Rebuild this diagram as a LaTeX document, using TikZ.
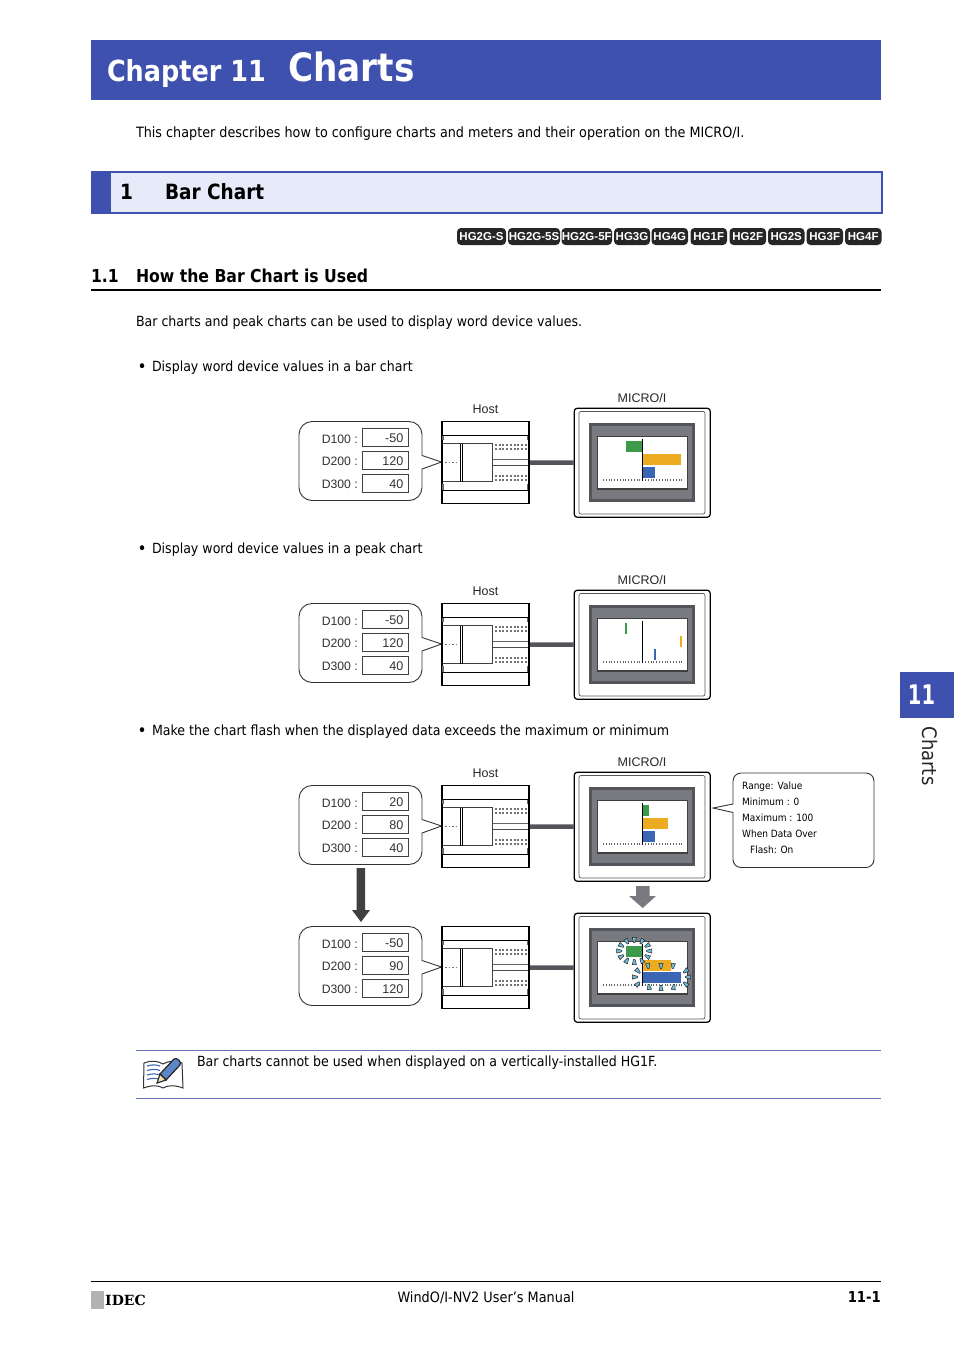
\documentclass[tikz,border=0pt]{standalone}
\usepackage{fontspec}
\setmainfont{DejaVu Sans}[FakeStretch=0.90,BoldFeatures={FakeStretch=0.88}]
\newfontfamily\labelfont{Liberation Sans}
\newfontfamily\logofont{DejaVu Serif}
\newfontfamily\tabfont{DejaVu Sans}[BoldFeatures={FakeStretch=0.72}]
\usepackage{tikz}

\definecolor{chapterblue}{HTML}{3F51AE}
\definecolor{sectiontint}{HTML}{E7EAF9}
\definecolor{bezeldark}{HTML}{53555A}
\definecolor{bezelgray}{HTML}{787A80}
\definecolor{bargreen}{HTML}{3B9B4B}
\definecolor{barorange}{HTML}{EDAB22}
\definecolor{barblue}{HTML}{3A66B4}
\definecolor{sparkcyan}{HTML}{6FBFDC}
\definecolor{notebook}{HTML}{5B86C8}

\tikzset{
	body/.style = {anchor = base west, inner sep = 0, outer sep = 0, font = \fontsize{14}{14}\selectfont},
	bulletmark/.style = {anchor = base west, inner sep = 0, outer sep = 0, font = \fontsize{17}{17}\selectfont},
	small/.style = {anchor = base west, inner sep = 0, font = \fontsize{10}{10}\selectfont},
	devlabel/.style = {anchor = east, inner sep = 0, font = \labelfont\fontsize{12.2}{12.2}\selectfont, text = black!80},
	valuebox/.style = {draw = black!75, line width = 0.8pt, fill = white, minimum width = 46pt, minimum height = 18pt, inner sep = 0},
	valuetext/.style = {anchor = east, inner sep = 0, font = \labelfont\fontsize{12.6}{12.6}\selectfont, text = black!80},
	hosttext/.style = {inner sep = 0, font = \labelfont\fontsize{12.5}{12.5}\selectfont, text = black!85},
	hostbox/.style = {draw, line width = 1.5pt, fill = white, minimum width = 87pt, minimum height = 82pt, inner sep = 0},
	panelbox/.style = {draw, line width = 1.2pt, rounded corners = 3pt, fill = white, minimum width = 136pt, minimum height = 109pt, inner sep = 0},
	linkbar/.style = {line width = 4.5pt, draw = bezeldark},
	sparktick/.style = {draw = black!85, line width = 0.5pt, fill = sparkcyan},
	notepage/.style = {draw = black!80, line width = 1pt, fill = white},
}

\newcommand{\plcgroup}[5]{
	\begin{scope}[shift = {(0, #2)}]
	\draw[black!80, line width = 0.9pt, fill = white] (312, 421.5) -- (409, 421.5) arc[start angle = 90, end angle = 0, radius = 13pt] -- (422, 455.5) -- (441.5, 462) -- (422, 469) -- (422, 487.5) arc[start angle = 0, end angle = -90, radius = 13pt] -- (312, 500.5) arc[start angle = -90, end angle = -180, radius = 13pt] -- (299, 434.5) arc[start angle = 180, end angle = 90, radius = 13pt] -- cycle;
	\node[devlabel] (#1D1) at (358, 439) {D100 :};
	\node[devlabel] (#1D2) at (358, 461.5) {D200 :};
	\node[devlabel] (#1D3) at (358, 484.5) {D300 :};
	\node[valuebox] (#1V1) at (385.5, 437.5) {};
	\node[valuebox] (#1V2) at (385.5, 460.5) {};
	\node[valuebox] (#1V3) at (385.5, 483) {};
	\node[valuetext] at (403.5, 438.5) {#3};
	\node[valuetext] at (403.5, 461.5) {#4};
	\node[valuetext] at (403.5, 484) {#5};
	\node[hostbox] (#1H) at (485.5, 462.5) {};
	\draw[line width = 0.9pt] (443, 435) -- (528, 435);
	\draw[line width = 0.9pt] (443, 490) -- (528, 490);
	\draw[black!75, line width = 0.7pt] (443, 443.5) -- (492.5, 443.5) -- (492.5, 481.5) -- (443, 481.5);
	\draw[line width = 0.8pt] (460, 443.5) -- (460, 481.5);
	\draw[line width = 0.8pt] (462.5, 443.5) -- (462.5, 481.5);
	\draw[black!60, line width = 0.8pt] (492.5, 459.5) -- (528, 459.5);
	\draw[black!70, line width = 0.8pt] (492.5, 465) -- (528, 465);
	\draw[black!60, line width = 1.2pt] (443, 435.5) -- (443, 440);
	\draw[black!60, line width = 1.2pt] (443, 484) -- (443, 490);
	\draw[black!60, line width = 1.2pt] (527.5, 435.5) -- (527.5, 440);
	\draw[black!60, line width = 1.2pt] (527.5, 484) -- (527.5, 490);
	\foreach \dotrow in {445, 449, 476, 480}
		\draw[black!55, line width = 1.5pt, dash pattern = on 2pt off 1.7pt] (495, \dotrow) -- (527, \dotrow);
	\draw[black!55, line width = 1.5pt, dash pattern = on 1.6pt off 2pt] (445, 462.5) -- (458, 462.5);
	\node[panelbox] (#1P) at (642.25, 462.75) {};
	\draw[black!65, line width = 0.7pt, rounded corners = 2pt] (579, 411.5) rectangle (705, 514);
	\draw[bezeldark, fill = bezelgray, line width = 3pt] (590.5, 424.5) rectangle (693.5, 500.5);
	\draw[black!75, fill = white, line width = 1.6pt] (597.5, 436.5) rectangle (687.5, 489);
	\end{scope}
	\draw[linkbar] (#1H) -- (#1P);
}
\newcommand{\screenaxis}[1]{
	\begin{scope}[shift = {(0, #1)}]
	\draw[black!60, line width = 1.3pt, dash pattern = on 0.8pt off 2pt] (603, 480) -- (682, 480);
	\draw[line width = 1pt] (642.5, 438.5) -- (642.5, 481);
	\end{scope}
}

\begin{document}
\begin{tikzpicture}[x = 1pt, y = -1pt]
	\useasboundingbox[fill = white] (0, 0) rectangle (954, 1350);
	% chapter heading
	\fill[chapterblue] (91, 40) rectangle (881, 100);
	\node[body, text = white, font = \bfseries\fontsize{29}{29}\selectfont] (chapno) at (107, 81) {Chapter 11};
	\node[body, text = white, font = \bfseries\fontsize{39}{39}\selectfont] (chaptitle) at (288, 81) {Charts};
	\node[body, font = \fontsize{14.2}{14.2}\selectfont] (intro) at (136, 137) {This chapter describes how to configure charts and meters and their operation on the MICRO/I.};
	% section bar
	\fill[sectiontint] (91, 172) rectangle (881, 213);
	\fill[chapterblue] (91, 171) rectangle (111, 214);
	\draw[chapterblue, line width = 2.5pt] (91, 172.2) -- (882, 172.2) -- (882, 212);
	\draw[chapterblue, line width = 2pt] (91, 213) -- (883, 213);
	\node[body, font = \bfseries\fontsize{21}{21}\selectfont] (secno) at (120, 199) {1};
	\node[body, font = \bfseries\fontsize{21}{21}\selectfont] (sectitle) at (165, 199) {Bar Chart};
	% model badges
	\foreach \model/\xa/\xb in {HG2G-S/457/506, HG2G-5S/508/560, HG2G-5F/561.5/612, HG3G/614/650, HG4G/651.5/688, HG1F/690.5/727, HG2F/729.5/766, HG2S/768/804.5, HG3F/806.5/843, HG4F/845/881.5}
		\fill[black!85, rounded corners = 4pt] (\xa, 228) rectangle (\xb, 245) node[midway, inner sep = 0, text = white, font = \labelfont\bfseries\fontsize{11.5}{11.5}\selectfont] (badge\model) {\model};
	% subsection
	\node[body, font = \bfseries\fontsize{17.8}{17.8}\selectfont] (subno) at (91, 282) {1.1};
	\node[body, font = \bfseries\fontsize{17.8}{17.8}\selectfont] (subtitle) at (136, 282) {How the Bar Chart is Used};
	\draw[line width = 1.3pt] (91, 290) -- (881, 290);
	\node[body] (lead) at (136, 326) {Bar charts and peak charts can be used to display word device values.};
	\node[bulletmark] (bulA) at (137.5, 372) {•};
	\node[body] (itemA) at (152, 371) {Display word device values in a bar chart};
	\node[bulletmark] (bulB) at (137.5, 554) {•};
	\node[body] (itemB) at (152, 553) {Display word device values in a peak chart};
	\node[bulletmark] (bulC) at (137.5, 736) {•};
	\node[body] (itemC) at (152, 735) {Make the chart flash when the displayed data exceeds the maximum or minimum};
	% bar chart
	\plcgroup{a}{0}{-50}{120}{40}
	\node[hosttext] (hostA) at (485.5, 409.5) {Host};
	\node[hosttext] (microA) at (642, 398.5) {MICRO/I};
	\fill[bargreen] (626, 441) rectangle (642, 452);
	\fill[barorange] (643, 454) rectangle (681, 465);
	\fill[barblue] (643, 467) rectangle (655, 478);
	\screenaxis{0}
	% peak chart
	\plcgroup{b}{182}{-50}{120}{40}
	\node[hosttext] (hostB) at (485.5, 591.5) {Host};
	\node[hosttext] (microB) at (642, 580.5) {MICRO/I};
	\fill[bargreen] (625, 623) rectangle (627, 634);
	\fill[barorange] (680, 636) rectangle (682, 647);
	\fill[barblue] (654, 649) rectangle (656, 660);
	\screenaxis{182}
	% flashing chart
	\plcgroup{c}{364}{20}{80}{40}
	\node[hosttext] (hostC) at (485.5, 773.5) {Host};
	\node[hosttext] (microC) at (642, 762.5) {MICRO/I};
	\fill[bargreen] (643, 805) rectangle (649, 816);
	\fill[barorange] (643, 818) rectangle (668, 829);
	\fill[barblue] (643, 831) rectangle (655, 842);
	\screenaxis{364}
	\draw[black!80, line width = 0.9pt, fill = white] (741, 773) -- (866, 773) arc[start angle = 90, end angle = 0, radius = 8pt] -- (874, 859.5) arc[start angle = 0, end angle = -90, radius = 8pt] -- (741, 867.5) arc[start angle = -90, end angle = -180, radius = 8pt] -- (733, 812.5) -- (713, 808) -- (733, 804) -- (733, 781) arc[start angle = 180, end angle = 90, radius = 8pt] -- cycle;
	\foreach \rowy/\rowtext in {789.5/{Range: Value}, 805.5/{Minimum : 0}, 821.5/{Maximum : 100}, 837.5/{When Data Over}}
		\node[small] at (742, \rowy) {\rowtext};
	\node[small] (flashrow) at (750, 853.5) {Flash: On};
	\fill[bezelgray] (636, 886) -- (649.5, 886) -- (649.5, 896) -- (656, 896) -- (642.7, 908) -- (629, 896) -- (636, 896) -- cycle;
	\fill[black!75] (356.5, 868) -- (365, 868) -- (365, 910) -- (370, 910) -- (361, 922) -- (352, 910) -- (356.5, 910) -- cycle;
	\plcgroup{d}{505}{-50}{90}{120}
	\fill[bargreen] (626, 946) rectangle (642, 957);
	\fill[barorange] (643, 960) rectangle (671, 971);
	\fill[barblue] (643, 972) rectangle (681, 983);
	\screenaxis{505}
	\foreach \sparka in {0, 30, ..., 330}
		\draw[sparktick, shift = {({634.3 + 15 * cos(\sparka)}, {951 - 11 * sin(\sparka)})}, rotate = \sparka] (-2.6pt, -0.7pt) -- (2.6pt, -2.1pt) -- (2.6pt, 2.1pt) -- (-2.6pt, 0.7pt) -- cycle;
	\foreach \sparkx/\sparky/\sparka in {638/971/135, 635/977/180, 637.7/984/225, 649/987/280, 661/988/270, 673.7/987/260, 685.7/971/40, 688/977/0, 685.7/984/320, 648/966/100, 661/966/90, 673/966/80}
		\draw[sparktick, shift = {(\sparkx, \sparky)}, rotate = \sparka] (-2.6pt, -0.7pt) -- (2.6pt, -2.1pt) -- (2.6pt, 2.1pt) -- (-2.6pt, 0.7pt) -- cycle;
	% note
	\draw[chapterblue!80, line width = 0.8pt] (136, 1050.5) -- (881, 1050.5);
	\draw[chapterblue!80, line width = 0.8pt] (136, 1098.5) -- (881, 1098.5);
	\draw[notepage] (144, 1063) .. controls (152, 1060) and (158, 1061) .. (163, 1064) .. controls (168, 1061) and (175, 1060) .. (182, 1063) -- (183, 1088) .. controls (175, 1085) and (168, 1085) .. (163, 1088) .. controls (158, 1085) and (152, 1085) .. (143.5, 1088) -- cycle;
	\foreach \liney in {1066, 1070.5, 1075, 1079.5}
		\draw[barblue, line width = 1.1pt] (147, \liney) .. controls (152, \liney - 1.5) and (156, \liney - 1.5) .. (160, \liney);
	\draw[black!85, fill = notebook, line width = 1.2pt] (160, 1074) -- (174, 1059) .. controls (177, 1057) and (182, 1062) .. (180, 1065) -- (166, 1080) -- cycle;
	\draw[black!85, fill = barorange!35, line width = 1.1pt] (160, 1074) -- (166, 1080) -- (157, 1083) -- cycle;
	\node[body] (notetext) at (197, 1066) {Bar charts cannot be used when displayed on a vertically-installed HG1F.};
	% side tab
	\fill[chapterblue] (900, 672) rectangle (954, 718);
	\node[inner sep = 0, text = white, font = \tabfont\bfseries\fontsize{27}{27}\selectfont] (tabno) at (921.5, 695) {11};
	\node[inner sep = 0, rotate = -90, text = black!85, font = \fontsize{20}{20}\selectfont] (tabtitle) at (929.5, 756) {Charts};
	% footer
	\draw[line width = 0.9pt] (91, 1281.5) -- (881, 1281.5);
	\fill[black!30] (91, 1291) rectangle (104, 1308.5);
	\node[anchor = base west, inner sep = 0, font = \logofont\bfseries\fontsize{14}{14}\selectfont] (logo) at (105, 1305) {IDEC};
	\node[anchor = base, inner sep = 0, font = \fontsize{14.3}{14.3}\selectfont] (manual) at (486, 1302) {WindO/I-NV2 User's Manual};
	\node[anchor = base east, inner sep = 0, font = \bfseries\fontsize{15}{15}\selectfont] (pageno) at (881, 1302) {11-1};
\end{tikzpicture}
\end{document}
